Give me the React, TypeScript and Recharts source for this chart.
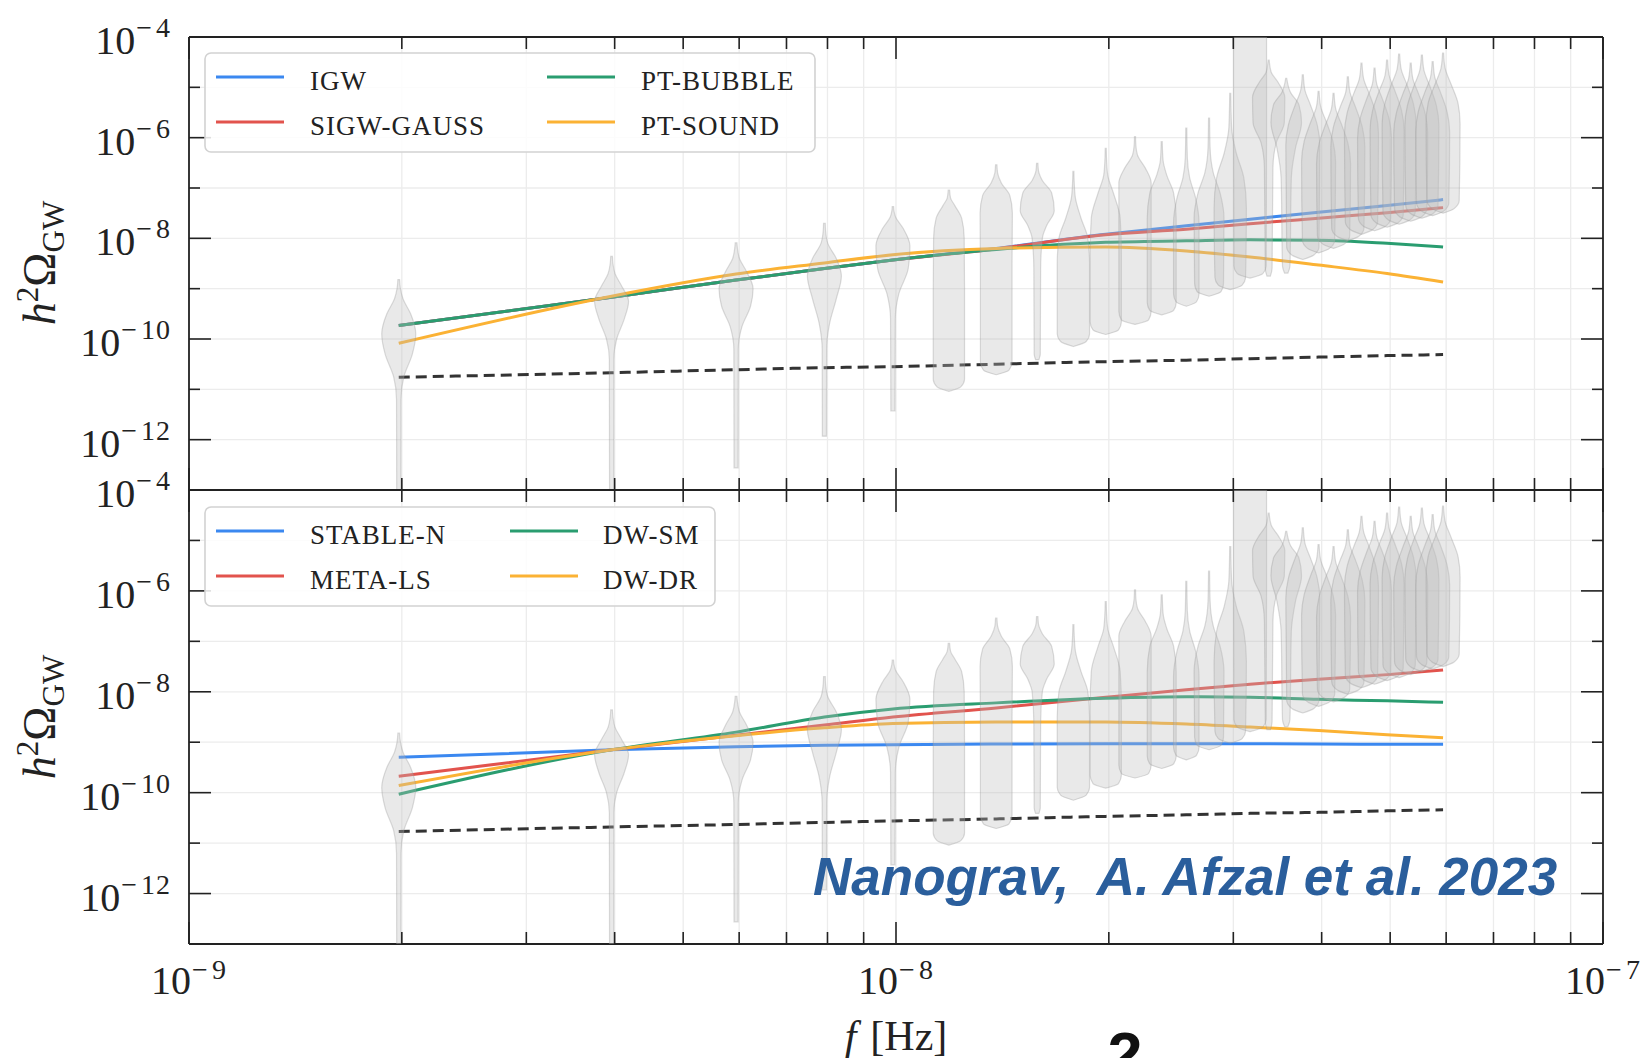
import React from 'react';
import { ComposedChart, Line, Scatter, XAxis, YAxis, CartesianGrid } from 'recharts';

// ---------------- data ----------------
// frequency bins of the free spectrum (Hz)
const binFrequencies = [
  1.98e-9, 3.96e-9, 5.94e-9, 7.92e-9, 9.9e-9, 1.188e-8, 1.386e-8, 1.584e-8, 1.782e-8, 1.98e-8,
  2.178e-8, 2.376e-8, 2.574e-8, 2.772e-8, 2.97e-8, 3.168e-8, 3.366e-8, 3.564e-8, 3.762e-8, 3.96e-8,
  4.158e-8, 4.356e-8, 4.554e-8, 4.752e-8, 4.95e-8, 5.148e-8, 5.346e-8, 5.544e-8, 5.742e-8, 5.94e-8,
];

// violin profiles: [log10(h^2 Omega), relative density] from bottom to top
const violinProfiles: [number, number][][] = [
  [[-13, 0.12], [-11.2, 0.13], [-10.75, 0.3], [-10.3, 0.8], [-9.9, 1.0], [-9.5, 0.7], [-9.2, 0.25], [-9.0, 0.1], [-8.82, 0.05]],
  [[-13, 0.12], [-10.4, 0.13], [-10.0, 0.3], [-9.6, 0.75], [-9.25, 1.0], [-8.95, 0.6], [-8.7, 0.2], [-8.5, 0.08], [-8.36, 0.05]],
  [[-12.56, 0.12], [-10.2, 0.13], [-9.75, 0.35], [-9.35, 0.85], [-9.0, 1.0], [-8.65, 0.6], [-8.4, 0.2], [-8.2, 0.08], [-8.09, 0.05]],
  [[-11.93, 0.12], [-10.2, 0.13], [-9.7, 0.3], [-9.2, 0.7], [-8.75, 1.0], [-8.4, 0.7], [-8.1, 0.2], [-7.85, 0.07], [-7.7, 0.05]],
  [[-11.43, 0.12], [-9.6, 0.14], [-9.1, 0.35], [-8.6, 0.9], [-8.15, 1.0], [-7.8, 0.6], [-7.57, 0.15], [-7.45, 0.06], [-7.37, 0.04]],
  [[-11.04, 0], [-10.95, 0.7], [-10.8, 0.92], [-9.0, 0.92], [-8.0, 0.9], [-7.6, 0.75], [-7.35, 0.35], [-7.2, 0.1], [-7.04, 0.04]],
  [[-10.71, 0], [-10.62, 0.75], [-10.45, 0.93], [-8.5, 0.93], [-7.5, 0.95], [-7.15, 0.8], [-6.9, 0.3], [-6.7, 0.08], [-6.54, 0.04]],
  [[-10.41, 0.1], [-10.3, 0.18], [-8.6, 0.2], [-8.0, 0.3], [-7.75, 0.55], [-7.45, 1.0], [-7.1, 0.85], [-6.85, 0.3], [-6.65, 0.07], [-6.51, 0.04]],
  [[-10.15, 0], [-10.05, 0.75], [-9.9, 0.95], [-8.5, 0.95], [-8.0, 0.85], [-7.6, 0.45], [-7.2, 0.12], [-6.9, 0.05], [-6.67, 0.03]],
  [[-9.91, 0], [-9.82, 0.75], [-9.65, 0.92], [-8.3, 0.92], [-7.6, 0.85], [-7.1, 0.45], [-6.75, 0.12], [-6.45, 0.05], [-6.21, 0.03]],
  [[-9.71, 0], [-9.62, 0.8], [-9.45, 0.95], [-7.5, 0.95], [-6.9, 0.95], [-6.6, 0.6], [-6.35, 0.15], [-6.15, 0.05], [-5.98, 0.03]],
  [[-9.52, 0], [-9.43, 0.7], [-9.28, 0.85], [-7.6, 0.85], [-7.1, 0.7], [-6.75, 0.3], [-6.45, 0.08], [-6.08, 0.03]],
  [[-9.35, 0], [-9.26, 0.6], [-9.1, 0.75], [-7.7, 0.75], [-7.2, 0.55], [-6.8, 0.2], [-6.4, 0.06], [-5.81, 0.03]],
  [[-9.15, 0], [-9.06, 0.7], [-8.9, 0.85], [-7.6, 0.88], [-7.1, 0.65], [-6.7, 0.25], [-6.2, 0.06], [-5.61, 0.03]],
  [[-9.02, 0], [-8.93, 0.7], [-8.78, 0.9], [-7.4, 0.95], [-6.8, 0.8], [-6.3, 0.35], [-5.8, 0.08], [-5.12, 0.03]],
  [[-8.79, 0], [-8.7, 0.75], [-8.55, 0.95], [-6.0, 0.97], [-4.0, 0.97]],
  [[-8.75, 0.1], [-8.6, 0.2], [-6.6, 0.25], [-6.1, 0.45], [-5.7, 0.92], [-5.2, 0.95], [-4.9, 0.55], [-4.7, 0.15], [-4.46, 0.03]],
  [[-8.69, 0.1], [-8.55, 0.22], [-6.8, 0.3], [-6.2, 0.55], [-5.7, 0.9], [-5.35, 0.75], [-5.1, 0.25], [-4.82, 0.03]],
  [[-8.42, 0], [-8.33, 0.65], [-8.17, 0.95], [-6.15, 1.0], [-5.75, 0.85], [-5.35, 0.45], [-5.05, 0.12], [-4.75, 0.03]],
  [[-8.29, 0], [-8.2, 0.65], [-8.04, 0.95], [-6.48, 1.0], [-6.08, 0.85], [-5.68, 0.45], [-5.38, 0.12], [-5.08, 0.03]],
  [[-8.2, 0], [-8.11, 0.65], [-7.95, 0.95], [-6.52, 1.0], [-6.12, 0.85], [-5.72, 0.45], [-5.42, 0.12], [-5.12, 0.03]],
  [[-8.05, 0], [-7.96, 0.65], [-7.8, 0.95], [-6.19, 1.0], [-5.79, 0.85], [-5.39, 0.45], [-5.09, 0.12], [-4.79, 0.03]],
  [[-7.92, 0], [-7.83, 0.65], [-7.67, 0.95], [-5.92, 1.0], [-5.52, 0.85], [-5.12, 0.45], [-4.82, 0.12], [-4.52, 0.03]],
  [[-7.85, 0], [-7.76, 0.65], [-7.6, 0.95], [-6.02, 1.0], [-5.62, 0.85], [-5.22, 0.45], [-4.92, 0.12], [-4.62, 0.03]],
  [[-7.78, 0], [-7.69, 0.65], [-7.53, 0.95], [-5.86, 1.0], [-5.46, 0.85], [-5.06, 0.45], [-4.76, 0.12], [-4.46, 0.03]],
  [[-7.72, 0], [-7.63, 0.65], [-7.47, 0.95], [-5.74, 1.0], [-5.34, 0.85], [-4.94, 0.45], [-4.64, 0.12], [-4.34, 0.03]],
  [[-7.66, 0], [-7.57, 0.65], [-7.41, 0.95], [-5.92, 1.0], [-5.52, 0.85], [-5.12, 0.45], [-4.82, 0.12], [-4.52, 0.03]],
  [[-7.6, 0], [-7.51, 0.65], [-7.35, 0.95], [-5.76, 1.0], [-5.36, 0.85], [-4.96, 0.45], [-4.66, 0.12], [-4.36, 0.03]],
  [[-7.55, 0], [-7.46, 0.65], [-7.3, 0.95], [-5.89, 1.0], [-5.49, 0.85], [-5.09, 0.45], [-4.79, 0.12], [-4.49, 0.03]],
  [[-7.5, 0], [-7.41, 0.65], [-7.25, 0.95], [-5.72, 1.0], [-5.32, 0.88], [-4.92, 0.45], [-4.62, 0.12], [-4.32, 0.03]],
];

// model curves, sampled at these frequencies (Hz)
const curveFrequencies = [1.98e-9, 3.96e-9, 5.94e-9, 7.92e-9, 9.9e-9, 1.386e-8, 1.98e-8, 2.574e-8, 3.168e-8, 3.96e-8, 4.95e-8, 5.94e-8];

// top panel (log10 h^2 Omega)
const igw = [-9.73, -9.17, -8.83, -8.6, -8.43, -8.2, -7.92, -7.75, -7.62, -7.48, -7.35, -7.23];
const sigwGauss = [-9.73, -9.17, -8.83, -8.6, -8.43, -8.21, -7.93, -7.82, -7.71, -7.6, -7.49, -7.39];
const ptBubble = [-9.73, -9.17, -8.83, -8.6, -8.43, -8.22, -8.08, -8.05, -8.03, -8.04, -8.1, -8.17];
const ptSound = [-10.085, -9.15, -8.71, -8.49, -8.325, -8.2, -8.17, -8.25, -8.37, -8.53, -8.7, -8.87];
const topReference = [-10.76, -10.67, -10.61, -10.57, -10.55, -10.5, -10.45, -10.42, -10.39, -10.36, -10.33, -10.31];

// bottom panel
const stableN = [-9.3, -9.15, -9.09, -9.06, -9.05, -9.035, -9.03, -9.03, -9.03, -9.035, -9.04, -9.04];
const metaLs = [-9.675, -9.15, -8.86, -8.66, -8.5, -8.32, -8.11, -7.96, -7.85, -7.75, -7.66, -7.57];
const dwSm = [-10.03, -9.15, -8.8, -8.5, -8.34, -8.22, -8.13, -8.1, -8.11, -8.15, -8.18, -8.21];
const dwDr = [-9.86, -9.15, -8.87, -8.715, -8.63, -8.6, -8.6, -8.64, -8.7, -8.77, -8.85, -8.91];
const bottomReference = [-10.77, -10.68, -10.63, -10.59, -10.56, -10.52, -10.47, -10.44, -10.41, -10.39, -10.36, -10.34];

const xTicks = [1e-9, 2e-9, 3e-9, 4e-9, 5e-9, 6e-9, 7e-9, 8e-9, 9e-9, 1e-8, 2e-8, 3e-8, 4e-8, 5e-8, 6e-8, 7e-8, 8e-8, 9e-8, 1e-7];
const yTicks = [1e-13, 1e-12, 1e-11, 1e-10, 1e-9, 1e-8, 1e-7, 1e-6, 1e-5, 1e-4];

const topSeries = [
  { key: 'igw', name: 'IGW', values: igw, color: '#3b88f0' },
  { key: 'sigw', name: 'SIGW-GAUSS', values: sigwGauss, color: '#e2534d' },
  { key: 'bubble', name: 'PT-BUBBLE', values: ptBubble, color: '#2a9d70' },
  { key: 'sound', name: 'PT-SOUND', values: ptSound, color: '#fbb234' },
];
const bottomSeries = [
  { key: 'stable', name: 'STABLE-N', values: stableN, color: '#3b88f0' },
  { key: 'meta', name: 'META-LS', values: metaLs, color: '#e2534d' },
  { key: 'dwsm', name: 'DW-SM', values: dwSm, color: '#2a9d70' },
  { key: 'dwdr', name: 'DW-DR', values: dwDr, color: '#fbb234' },
];

// ---------------- styles ----------------
const SERIF = "'Liberation Serif', 'DejaVu Serif', serif";
const SANS = "'Liberation Sans', Arial, sans-serif";
const INK = '#222';
const VIOLIN_HALF_WIDTH = 17;
const FRAME = 1.8;

const buildTable = (series: typeof topSeries, ref: number[]) =>
  curveFrequencies.map((f, i) => {
    const row: Record<string, number> = { f, ref: Math.pow(10, ref[i]) };
    series.forEach((s) => (row[s.key] = Math.pow(10, s.values[i])));
    return row;
  });

const topTable = buildTable(topSeries, topReference);
const bottomTable = buildTable(bottomSeries, bottomReference);

// ---------------- violin shape ----------------
function monotoneTangents(xs: number[], ys: number[]): number[] {
  const n = xs.length;
  const t = new Array(n).fill(0);
  if (n < 2) return t;
  const s: number[] = [];
  for (let i = 0; i < n - 1; i++) {
    const h = xs[i + 1] - xs[i];
    s.push(h ? (ys[i + 1] - ys[i]) / h : 0);
  }
  for (let i = 1; i < n - 1; i++) {
    const h0 = xs[i] - xs[i - 1];
    const h1 = xs[i + 1] - xs[i];
    const s0 = s[i - 1];
    const s1 = s[i];
    const p = (s0 * h1 + s1 * h0) / (h0 + h1 || 1);
    t[i] = (Math.sign(s0) + Math.sign(s1)) * Math.min(Math.abs(s0), Math.abs(s1), 0.5 * Math.abs(p)) || 0;
  }
  t[0] = n > 2 ? (3 * s[0] - t[1]) / 2 : s[0];
  t[n - 1] = n > 2 ? (3 * s[n - 2] - t[n - 2]) / 2 : s[n - 2];
  return t;
}

function violinPath(points: { x: number; y: number }[], density: number[]) {
  if (!points || points.length < 2) return null;
  const cx = points[0].x;
  const idx = points.map((_, i) => i).sort((a, b) => points[a].y - points[b].y);
  const ys = idx.map((i) => points[i].y);
  const ws = idx.map((i) => density[i] * VIOLIN_HALF_WIDTH);
  const t = monotoneTangents(ys, ws);
  const n = ys.length;
  const segs: { c1y: number; c1w: number; c2y: number; c2w: number }[] = [];
  for (let i = 0; i < n - 1; i++) {
    const h = (ys[i + 1] - ys[i]) / 3;
    segs.push({
      c1y: ys[i] + h,
      c1w: Math.max(0, ws[i] + h * t[i]),
      c2y: ys[i + 1] - h,
      c2w: Math.max(0, ws[i + 1] - h * t[i + 1]),
    });
  }
  let d = `M${cx + ws[0]},${ys[0]}`;
  segs.forEach((s, i) => {
    d += ` C${cx + s.c1w},${s.c1y} ${cx + s.c2w},${s.c2y} ${cx + ws[i + 1]},${ys[i + 1]}`;
  });
  d += ` L${cx - ws[n - 1]},${ys[n - 1]}`;
  for (let i = n - 2; i >= 0; i--) {
    const s = segs[i];
    d += ` C${cx - s.c2w},${s.c2y} ${cx - s.c1w},${s.c1y} ${cx - ws[i]},${ys[i]}`;
  }
  d += ' Z';
  return (
    <path d={d} fill="#bdbdbd" fillOpacity={0.33} stroke="#9a9a9a" strokeOpacity={0.35} strokeWidth={1.2} />
  );
}

const emptyShape = () => <g />;

// ---------------- ticks ----------------
const isDecade = (v: number) => Math.abs(Math.log10(v) - Math.round(Math.log10(v))) < 1e-6;

function Power({ x, y, e, anchor, raise }: { x: number; y: number; e: number; anchor: string; raise: number }) {
  return (
    <text x={x} y={y} textAnchor={anchor as any} fill={INK} fontFamily={SERIF}>
      <tspan fontSize={40}>10</tspan>
      <tspan fontSize={28} dy={-raise} dx={1}>{'\u2212'}</tspan>
      <tspan fontSize={28} dx={4} letterSpacing={1}>{String(Math.abs(e))}</tspan>
    </text>
  );
}

const makeXTick = (dir: 1 | -1, labels: boolean) => (props: any) => {
  const { x, y, payload } = props;
  const v = payload.value;
  const major = isDecade(v);
  const len = major ? 22 : 12;
  const e = Math.round(Math.log10(v));
  return (
    <g>
      <line x1={x} x2={x} y1={y} y2={y + dir * len} stroke={INK} strokeWidth={1.6} />
      {labels && major && <Power x={x} y={y + 50} e={e} anchor="middle" raise={15} />}
    </g>
  );
};

const makeYTick = (dir: 1 | -1, labels: boolean) => (props: any) => {
  const { x, y, payload } = props;
  const e = Math.round(Math.log10(payload.value));
  const major = e % 2 === 0;
  const len = major ? 22 : 11;
  return (
    <g>
      <line x1={x} x2={x + dir * len} y1={y} y2={y} stroke={INK} strokeWidth={1.6} />
      {labels && major && <Power x={x - 18} y={y + 17} e={e} anchor="end" raise={17} />}
    </g>
  );
};

const bottomTickUp = makeXTick(-1, false);
const bottomTickUpLabeled = makeXTick(-1, true);
const topTickDown = makeXTick(1, false);
const leftTick = makeYTick(1, true);
const rightTick = makeYTick(-1, false);

// ---------------- panel ----------------
function Panel({
  height,
  margin,
  table,
  series,
  xLabels,
}: {
  height: number;
  margin: { top: number; right: number; bottom: number; left: number };
  table: Record<string, number>[];
  series: typeof topSeries;
  xLabels: boolean;
}) {
  const axisLine = { stroke: INK, strokeWidth: FRAME };
  return (
    <ComposedChart width={1646} height={height} data={table} margin={margin}>
      <CartesianGrid stroke="#ececec" strokeWidth={1.3} />
      {violinProfiles.map((prof, i) => (
        <Scatter
          key={`violin-${i}`}
          name={`bin ${i + 1}`}
          data={prof.map(([v]) => ({ f: binFrequencies[i], y: Math.pow(10, v) }))}
          dataKey="y"
          isAnimationActive={false}
          shape={emptyShape}
          legendType="none"
          line={(lp: any) => violinPath(lp.points, prof.map((p) => p[1]))}
        />
      ))}
      <Line
        dataKey="ref"
        type="monotone"
        stroke="#333"
        strokeWidth={3}
        strokeDasharray="11 6"
        dot={false}
        activeDot={false}
        isAnimationActive={false}
        legendType="none"
      />
      {series.map((s) => (
        <Line
          key={s.key}
          dataKey={s.key}
          name={s.name}
          type="monotone"
          stroke={s.color}
          strokeWidth={3}
          dot={false}
          activeDot={false}
          isAnimationActive={false}
        />
      ))}
      <XAxis
        dataKey="f"
        type="number"
        scale="log"
        domain={[1e-9, 1e-7]}
        allowDataOverflow
        ticks={xTicks}
        interval={0}
        height={1}
        tickSize={0}
        tickMargin={0}
        tickLine={false}
        axisLine={axisLine}
        tick={xLabels ? bottomTickUpLabeled : bottomTickUp}
      />
      <XAxis
        xAxisId="top"
        orientation="top"
        dataKey="f"
        type="number"
        scale="log"
        domain={[1e-9, 1e-7]}
        allowDataOverflow
        ticks={xTicks}
        interval={0}
        height={1}
        tickSize={0}
        tickMargin={0}
        tickLine={false}
        axisLine={axisLine}
        tick={topTickDown}
      />
      <YAxis
        type="number"
        scale="log"
        domain={[1e-13, 1e-4]}
        allowDataOverflow
        ticks={yTicks}
        interval={0}
        width={1}
        tickSize={0}
        tickMargin={0}
        tickLine={false}
        axisLine={axisLine}
        tick={leftTick}
      />
      <YAxis
        yAxisId="right"
        orientation="right"
        type="number"
        scale="log"
        domain={[1e-13, 1e-4]}
        allowDataOverflow
        ticks={yTicks}
        interval={0}
        width={1}
        tickSize={0}
        tickMargin={0}
        tickLine={false}
        axisLine={axisLine}
        tick={rightTick}
      />
    </ComposedChart>
  );
}

// ---------------- legend / labels ----------------
function LegendBox({
  x, y, w, h, series, col2Line, col2Text,
}: { x: number; y: number; w: number; h: number; series: typeof topSeries; col2Line: number; col2Text: number }) {
  const rows = [24, 69];
  const cols = [
    { line: 11, text: 105 },
    { line: col2Line, text: col2Text },
  ];
  return (
    <g>
      <rect x={x} y={y} width={w} height={h} rx={6} fill="#fff" fillOpacity={0.85} stroke="#d2d2d2" strokeWidth={1.6} />
      {series.map((s, i) => {
        const c = cols[Math.floor(i / 2)];
        const ry = y + rows[i % 2];
        return (
          <g key={s.key}>
            <line x1={x + c.line} x2={x + c.line + 68} y1={ry} y2={ry} stroke={s.color} strokeWidth={3} />
            <text x={x + c.text} y={ry + 13} fontFamily={SERIF} fontSize={27} letterSpacing={1} fill={INK}>
              {s.name}
            </text>
          </g>
        );
      })}
    </g>
  );
}

function YTitle({ cy }: { cy: number }) {
  return (
    <text transform={`translate(55, ${cy}) rotate(-90)`} textAnchor="middle" fontFamily={SERIF} fontSize={46} fill={INK}>
      <tspan fontStyle="italic">h</tspan>
      <tspan fontSize={31} dy={-17}>2</tspan>
      <tspan dy={17}>{'\u03A9'}</tspan>
      <tspan fontSize={31} dy={9}>GW</tspan>
    </text>
  );
}

export default function App() {
  return (
    <div style={{ position: 'absolute', left: 0, top: 0, width: 1646, height: 1058, background: '#fff', overflow: 'hidden' }}>
      <div style={{ position: 'absolute', left: 0, top: 0 }}>
        <Panel height={500} margin={{ top: 36, right: 42, bottom: 9, left: 188 }} table={topTable} series={topSeries} xLabels={false} />
      </div>
      <div style={{ position: 'absolute', left: 0, top: 440 }}>
        <Panel height={618} margin={{ top: 49, right: 42, bottom: 113, left: 188 }} table={bottomTable} series={bottomSeries} xLabels={true} />
      </div>
      <svg width={1646} height={1058} style={{ position: 'absolute', left: 0, top: 0, pointerEvents: 'none' }}>
        <LegendBox x={205} y={53} w={610} h={99} series={topSeries} col2Line={342} col2Text={436} />
        <LegendBox x={205} y={507} w={510} h={99} series={bottomSeries} col2Line={305} col2Text={398} />
        <YTitle cy={263} />
        <YTitle cy={717} />
        <text x={896} y={1050} textAnchor="middle" fontFamily={SERIF} fontSize={42} fill={INK}>
          <tspan fontStyle="italic">f</tspan>
          <tspan dx={14}>[Hz]</tspan>
        </text>
        <text x={813} y={895} fontFamily={SANS} fontSize={53} fontWeight="bold" fontStyle="italic" fill="#2a5e9c">
          {'Nanograv,\u00A0 A. Afzal et al. 2023'}
        </text>
        <text x={1125} y={1076} textAnchor="middle" fontFamily={SANS} fontSize={63} fontWeight="bold" fill="#111">
          2
        </text>
      </svg>
    </div>
  );
}
